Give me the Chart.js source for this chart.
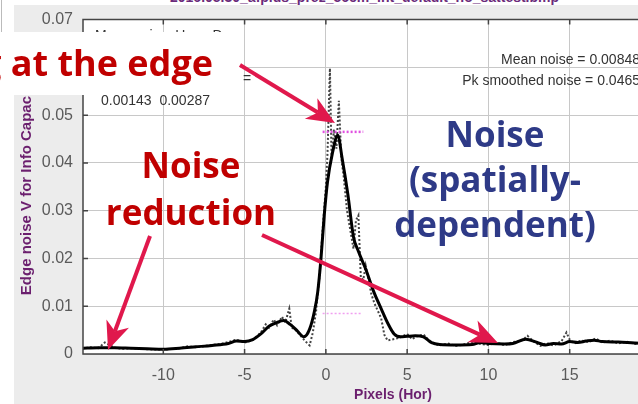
<!DOCTYPE html>
<html>
<head>
<meta charset="utf-8">
<script src="https://cdn.jsdelivr.net/npm/chart.js@4"></script>
<style>
  html, body { margin: 0; padding: 0; width: 638px; height: 404px; overflow: hidden; background: #fff; }
  #panel { position: absolute; left: 14px; top: 5px; width: 700px; height: 400px; background: #ececec; }
  #wrap { position: absolute; left: 0; top: 0; width: 703px; height: 404px; }
  .note { position: absolute; font-family: "Liberation Sans", Arial, sans-serif; color: #333; white-space: nowrap; }
  .big { position: absolute; font-family: "Open Sans", sans-serif; font-weight: bold; text-align: center; white-space: nowrap; }
  #box { position: absolute; left: 0; top: 32px; width: 240px; height: 63px; background: #fff; }
  svg { position: absolute; left: 0; top: 0; }
</style>
</head>
<body>
<div id="panel"></div>
<div class="note" style="left:170px; top:-11px; font-size:14px; font-weight:bold; color:#6b2a7b;">2016.05.30_afplus_prez_56cm_int_default_no_sattest.bmp</div>
<div style="position:absolute; left:1px; top:0; width:1px; height:32px; background:#bbb;"></div>
<div id="wrap"><canvas id="chart" width="703" height="404"></canvas></div>

<div class="note" style="left:95px; top:27px; font-size:14px;">Mean noise &nbsp;H &nbsp; &nbsp; &nbsp; D</div>
<div class="note" style="left:243px; top:70px; font-size:14px;">=</div>
<div class="note" style="left:101px; top:92px; font-size:14px;">0.00143 &nbsp;0.00287</div>
<div class="note" style="right:-2px; top:49px; font-size:14px; text-align:right; line-height:21px;">Mean noise = 0.00848<br>Pk smoothed noise = 0.0465</div>

<div id="box"></div>
<div class="big" style="left:-100px; top:45px; width:313px; text-align:right; font-size:36px; line-height:36px; color:#c00000;">g at the edge</div>
<div class="big" style="left:41px; top:141px; width:300px; font-size:35px; line-height:47px; color:#c00000;">Noise<br>reduction</div>
<div class="big" style="left:345px; top:111px; width:300px; font-size:35px; line-height:45px; color:#2e3a87;">Noise<br>(spatially-<br>dependent)</div>

<svg id="arrows" width="638" height="404"></svg>

<script>
// smoothed edge noise (black line)
const smoothX = [-15, -14, -13, -12, -11, -10, -9, -8, -7, -6, -5.5, -5, -4.5, -4, -3.5, -3, -2.6, -2.2, -1.8, -1.35,
  -1.0, -0.7, -0.5, -0.3, -0.1, 0.1, 0.4, 0.73, 1.0, 1.35, 1.7, 2.0, 2.45, 2.95, 3.4, 3.8, 4.2, 4.6, 5.0, 5.5,
  6.0, 6.5, 7.0, 8.0, 9.0, 9.5, 10.0, 11.0, 11.5, 12.3, 13.0, 13.5, 14.0, 14.5, 15.0, 15.5, 16.0, 16.5, 17.0, 18.0,
  19.0, 20.0, 21.0, 22.0, 23.2];
const smoothY = [0.0012, 0.0013, 0.0013, 0.0012, 0.0011, 0.0010, 0.0012, 0.0015, 0.0018, 0.0022, 0.0027, 0.0026, 0.0030, 0.0042, 0.0058, 0.0066, 0.0070, 0.0062, 0.0050, 0.0036,
  0.0052, 0.0090, 0.0130, 0.0200, 0.0290, 0.0360, 0.0420, 0.0458, 0.0410, 0.0335, 0.0245, 0.0215, 0.0178, 0.0130, 0.0095, 0.0065, 0.0042, 0.0036, 0.0037, 0.0038,
  0.0036, 0.0024, 0.0020, 0.0019, 0.0020, 0.0024, 0.0022, 0.0021, 0.0022, 0.0031, 0.0024, 0.0019, 0.0022, 0.0021, 0.0026, 0.0024, 0.0027, 0.0029, 0.0026, 0.0025,
  0.0023, 0.0022, 0.0023, 0.0022, 0.0022];

// raw edge noise (dotted grey line)
const rawX = [-15, -14.5, -14, -13.6, -13, -12.5, -12, -11, -10, -9, -8.5, -8, -7, -6.5, -6, -5.5, -5, -4.5, -4, -3.7,
  -3.5, -3.2, -3.0, -2.7, -2.5, -2.25, -2.1, -1.9, -1.6, -1.3, -1.0, -0.8, -0.6, -0.4, -0.2, 0, 0.1, 0.25, 0.35, 0.5,
  0.65, 0.8, 0.95, 1.1, 1.3, 1.5, 1.7, 1.85, 2.0, 2.15, 2.3, 2.45, 2.6, 2.8, 3.0, 3.2, 3.4, 3.6, 3.8, 4.0,
  4.3, 4.6, 5.0, 5.3, 5.6, 6.0, 6.3, 6.7, 7.0, 7.5, 8.0, 8.5, 9.0, 9.5, 10.0, 10.5, 11.0, 11.5, 12.0, 12.4,
  12.8, 13.2, 13.6, 14.0, 14.5, 14.8, 15.0, 15.3, 15.7, 16.2, 16.6, 17.0, 17.5, 18.0, 18.5, 19.0, 19.5, 20.5, 21.5, 23.2];
const rawY = [0.0011, 0.0014, 0.0012, 0.0024, 0.0013, 0.0011, 0.0012, 0.0010, 0.0009, 0.0012, 0.0016, 0.0014, 0.0019, 0.0021, 0.0025, 0.0030, 0.0024, 0.0029, 0.0045, 0.0062,
  0.0055, 0.0072, 0.0060, 0.0078, 0.0066, 0.0095, 0.0055, 0.0052, 0.0040, 0.0028, 0.0018, 0.0045, 0.0090, 0.0160, 0.0260, 0.0350, 0.0420, 0.0598, 0.0410, 0.0470,
  0.0430, 0.0530, 0.0410, 0.0370, 0.0300, 0.0260, 0.0220, 0.0280, 0.0290, 0.0160, 0.0155, 0.0185, 0.0160, 0.0125, 0.0105, 0.0090, 0.0075, 0.0040, 0.0028, 0.0030,
  0.0032, 0.0035, 0.0042, 0.0031, 0.0037, 0.0041, 0.0030, 0.0021, 0.0018, 0.0022, 0.0017, 0.0020, 0.0025, 0.0021, 0.0019, 0.0024, 0.0018, 0.0025, 0.0027, 0.0038,
  0.0026, 0.0017, 0.0023, 0.0018, 0.0027, 0.0045, 0.0030, 0.0022, 0.0028, 0.0025, 0.0033, 0.0024, 0.0028, 0.0022, 0.0026, 0.0021, 0.0024, 0.0022, 0.0025, 0.0022];

const meanNoise = 0.00848;
const pkSmoothedNoise = 0.0465;
const pkSpan = [-0.2, 2.3];
const meanSpan = [-0.2, 2.2];

const xTicks = [-10, -5, 0, 5, 10, 15, 20];
const yTicks = [0, 0.01, 0.02, 0.03, 0.04, 0.05, 0.06, 0.07];

const toPoints = (xs, ys) => xs.map((x, i) => ({ x: x, y: ys[i] }));

// white plot area
const plotBackground = {
  id: 'plotBackground',
  beforeDraw(chart) {
    const a = chart.chartArea, ctx = chart.ctx;
    ctx.save();
    ctx.fillStyle = '#fff';
    ctx.fillRect(a.left, a.top, a.right - a.left, a.bottom - a.top);
    ctx.restore();
  }
};

// matlab style box with inward ticks
const axisBox = {
  id: 'axisBox',
  afterDraw(chart) {
    const a = chart.chartArea, ctx = chart.ctx;
    const xs = chart.scales.x, ys = chart.scales.y;
    ctx.save();
    ctx.strokeStyle = '#444';
    ctx.lineWidth = 1.5;
    ctx.beginPath();
    ctx.moveTo(a.right, a.top); ctx.lineTo(a.left, a.top);
    ctx.lineTo(a.left, a.bottom); ctx.lineTo(a.right, a.bottom);
    xTicks.forEach(v => {
      const px = xs.getPixelForValue(v);
      ctx.moveTo(px, a.bottom); ctx.lineTo(px, a.bottom - 5);
      ctx.moveTo(px, a.top); ctx.lineTo(px, a.top + 5);
    });
    yTicks.forEach(v => {
      const py = ys.getPixelForValue(v);
      ctx.moveTo(a.left, py); ctx.lineTo(a.left + 5, py);
    });
    ctx.stroke();
    ctx.restore();
  }
};

new Chart(document.getElementById('chart'), {
  type: 'line',
  data: {
    datasets: [
      {
        data: toPoints(smoothX, smoothY),
        borderColor: '#000',
        borderWidth: 3,
        pointRadius: 0,
        cubicInterpolationMode: 'monotone',
        order: 1
      },
      {
        data: toPoints(rawX, rawY),
        borderColor: '#444',
        borderWidth: 2,
        borderDash: [2, 2],
        pointRadius: 0,
        order: 2
      },
      {
        data: toPoints(pkSpan, [pkSmoothedNoise, pkSmoothedNoise]),
        borderColor: '#e050e0',
        borderWidth: 2.5,
        borderDash: [2, 2],
        pointRadius: 0,
        order: 0
      },
      {
        data: toPoints(meanSpan, [meanNoise, meanNoise]),
        borderColor: '#f0a0f0',
        borderWidth: 1.5,
        borderDash: [2, 2],
        pointRadius: 0,
        order: 3
      }
    ]
  },
  options: {
    responsive: false,
    animation: false,
    layout: { padding: { top: 13, left: 0, right: 0, bottom: 0 } },
    plugins: { legend: { display: false }, tooltip: { enabled: false } },
    scales: {
      x: {
        type: 'linear',
        min: -14.94,
        max: 23.2,
        afterBuildTicks: s => { s.ticks = xTicks.map(v => ({ value: v })); },
        afterFit: s => { s.height = 50; },
        grid: { color: '#c8c8c8', borderDash: [1.5, 3], drawTicks: false },
        border: { display: false },
        ticks: { color: '#5a5a5a', padding: 12, font: { family: 'Liberation Sans', size: 16 } },
        title: {
          display: true,
          text: 'Pixels (Hor)',
          color: '#6b1f6e',
          padding: { top: 0, bottom: 0 },
          font: { family: 'Liberation Sans', size: 14, weight: 'bold' }
        }
      },
      y: {
        min: 0,
        max: 0.07,
        afterBuildTicks: s => { s.ticks = yTicks.map(v => ({ value: v })); },
        afterFit: s => { s.width = 83; },
        grid: { color: '#c8c8c8', borderDash: [1.5, 3], drawTicks: false },
        border: { display: false },
        ticks: {
          color: '#5a5a5a',
          padding: 10,
          font: { family: 'Liberation Sans', size: 16 },
          callback: v => v === 0 ? '0' : v.toFixed(2)
        },
        title: {
          display: true,
          text: 'Edge noise V for Info Capacity',
          color: '#6b1f6e',
          padding: { top: 18, bottom: 0 },
          font: { family: 'Liberation Sans', size: 15, weight: 'bold' }
        }
      }
    }
  },
  plugins: [plotBackground, axisBox]
});

// callout arrows (stealth heads)
function arrow(svg, x1, y1, x2, y2) {
  const ns = 'http://www.w3.org/2000/svg';
  const dx = x2 - x1, dy = y2 - y1, len = Math.hypot(dx, dy);
  const ux = dx / len, uy = dy / len, nx = -uy, ny = ux;
  const hl = 28, hw = 12, notch = 20;
  const line = document.createElementNS(ns, 'line');
  line.setAttribute('x1', x1); line.setAttribute('y1', y1);
  line.setAttribute('x2', x2 - ux * notch); line.setAttribute('y2', y2 - uy * notch);
  line.setAttribute('stroke', '#e0184c'); line.setAttribute('stroke-width', 4);
  svg.appendChild(line);
  const bx = x2 - ux * hl, by = y2 - uy * hl;
  const pts = [[x2, y2], [bx + nx * hw, by + ny * hw], [x2 - ux * notch, y2 - uy * notch], [bx - nx * hw, by - ny * hw]];
  const head = document.createElementNS(ns, 'polygon');
  head.setAttribute('points', pts.map(p => p.join(',')).join(' '));
  head.setAttribute('fill', '#e0184c');
  svg.appendChild(head);
}
const svg = document.getElementById('arrows');
arrow(svg, 240, 65, 335, 123);
arrow(svg, 150, 236, 108, 350);
arrow(svg, 262, 235, 498, 343);
</script>
</body>
</html>
